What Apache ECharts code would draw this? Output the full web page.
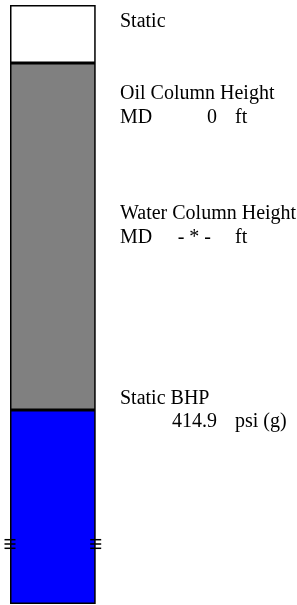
<!DOCTYPE html>
<html>
<head>
<meta charset="utf-8">
<script src="https://cdn.jsdelivr.net/npm/echarts@6/dist/echarts.min.js"></script>
<style>
html,body{margin:0;padding:0;background:#fff;}
#chart{width:297px;height:605px;}
</style>
</head>
<body>
<div id="chart"></div>
<script>
// Column segments (depth units, top to bottom)
var categories = ['Well'];
var segmentNames = ['Static', 'Oil Column', 'Water Column'];
var segmentValues = [58, 347, 194];
var segmentColors = ['#ffffff', '#808080', '#0000ff'];
var markerDepths = [539];

// Text block
var titleLabel = 'Static';
var oilLabel = 'Oil Column Height';
var oilMD = '0';
var waterLabel = 'Water Column Height';
var waterMD = '- * -';
var bhpLabel = 'Static BHP';
var bhpValue = '414.9';
var lengthUnit = 'ft';
var pressureUnit = 'psi (g)';

var chart = echarts.init(document.getElementById('chart'));
var FONT = '20px "Liberation Serif", "Times New Roman", serif';

var series = segmentValues.map(function (v, i) {
  return {
    name: segmentNames[i],
    type: 'bar',
    stack: 'col',
    barWidth: '100%',
    data: [v],
    itemStyle: { color: segmentColors[i], borderColor: '#000', borderWidth: 1.5 },
    silent: true
  };
});

series.push({
  type: 'custom',
  clip: false,
  silent: true,
  z: 10,
  data: markerDepths.map(function (d) { return [0, d]; }),
  encode: { x: 0, y: 1 },
  renderItem: function (params, api) {
    var p = api.coord([api.value(0), api.value(1)]);
    var w = api.size([1, 0])[0];
    var l = p[0] - w / 2, r = p[0] + w / 2;
    var children = [];
    [-4.3, 0, 4.3].forEach(function (o) {
      [l, r].forEach(function (x) {
        children.push({
          type: 'line',
          shape: { x1: x - 5.5, y1: p[1] + o, x2: x + 5.5, y2: p[1] + o },
          style: { stroke: '#000', lineWidth: 1.5 }
        });
      });
    });
    return { type: 'group', children: children };
  }
});

function txt(t, x, y, align) {
  return {
    type: 'text', x: x, y: y,
    style: { text: t, font: FONT, fill: '#000', align: align || 'left', verticalAlign: 'middle' }
  };
}

var LX = 120, VX = 217, UX = 235;

chart.setOption({
  animation: false,
  grid: { left: 10, top: 5, width: 85.7, bottom: 1 },
  xAxis: { type: 'category', data: categories, show: false },
  yAxis: { type: 'value', inverse: true, min: 0, max: 599, show: false },
  series: series,
  graphic: [
    txt(titleLabel, LX, 22),
    txt(oilLabel, LX, 94),
    txt('MD', LX, 118),
    txt(oilMD, VX, 118, 'right'),
    txt(lengthUnit, UX, 118),
    txt(waterLabel, LX, 214),
    txt('MD', LX, 238),
    txt(waterMD, 211, 238, 'right'),
    txt(lengthUnit, UX, 238),
    txt(bhpLabel, LX, 399),
    txt(bhpValue, VX, 422, 'right'),
    txt(pressureUnit, UX, 422)
  ]
});
</script>
</body>
</html>
